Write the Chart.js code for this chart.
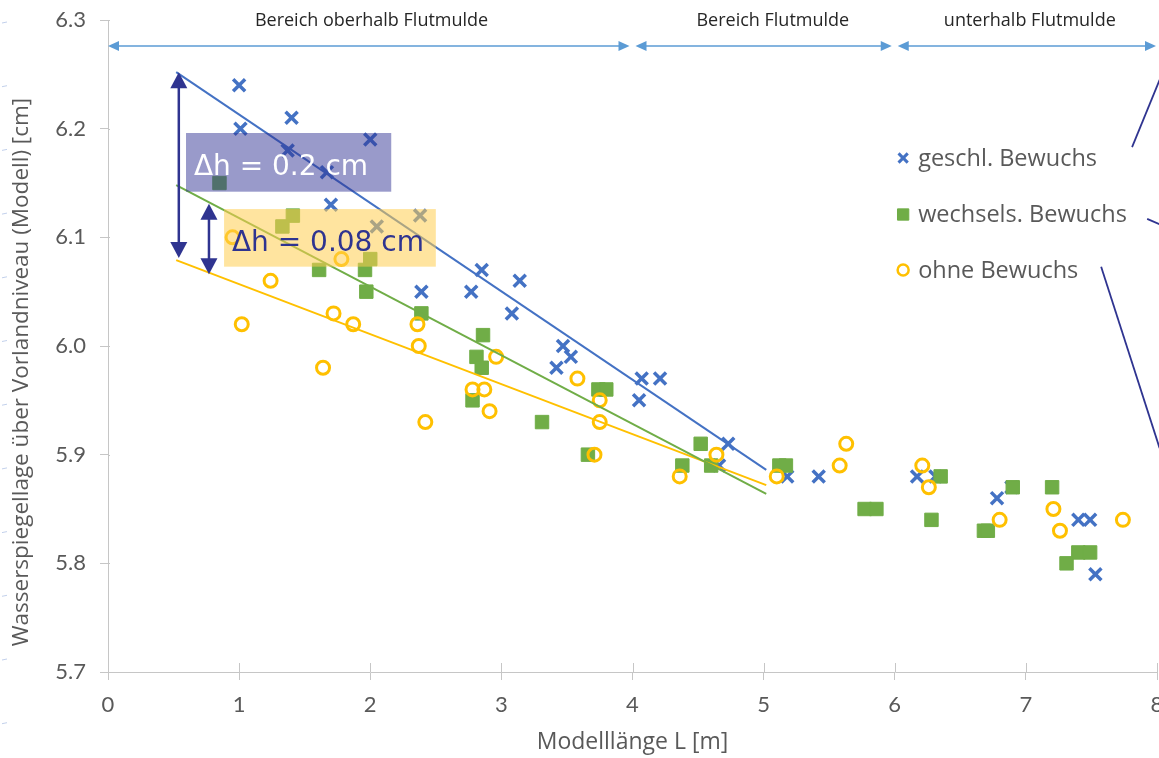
<!DOCTYPE html>
<html>
<head>
<meta charset="utf-8">
<script src="https://cdn.jsdelivr.net/npm/chart.js@4.4.1/dist/chart.umd.min.js"></script>
<style>
  html, body { margin: 0; padding: 0; background: #fff; }
  #chart { display: block; }
</style>
</head>
<body>
<canvas id="chart" width="1159" height="758"></canvas>
<script>
// --- data ---
const xTicks = [0, 1, 2, 3, 4, 5, 6, 7, 8];
const yTicks = [5.7, 5.8, 5.9, 6.0, 6.1, 6.2, 6.3];

const seriesNames = ['geschl. Bewuchs', 'wechsels. Bewuchs', 'ohne Bewuchs'];

const geschlX = [1.00, 1.01, 1.40, 1.37, 1.67, 1.70, 2.00, 2.05, 2.38, 2.39, 2.85, 2.77, 3.08, 3.14, 3.47, 3.53, 3.42, 4.07, 4.21, 4.05, 4.73, 4.66, 5.18, 5.42, 6.17, 6.31, 6.78, 6.89, 7.40, 7.49, 7.53];
const geschlY = [6.24, 6.20, 6.21, 6.18, 6.16, 6.13, 6.19, 6.11, 6.12, 6.05, 6.07, 6.05, 6.03, 6.06, 6.00, 5.99, 5.98, 5.97, 5.97, 5.95, 5.91, 5.89, 5.88, 5.88, 5.88, 5.88, 5.86, 5.87, 5.84, 5.84, 5.79];

const wechselX = [0.85, 1.41, 1.33, 2.00, 1.61, 1.96, 1.97, 2.39, 2.86, 2.81, 2.85, 2.78, 3.31, 3.74, 3.80, 3.66, 4.52, 4.38, 4.60, 5.12, 5.17, 5.77, 5.86, 6.35, 6.28, 6.68, 6.71, 6.90, 7.20, 7.40, 7.49, 7.31];
const wechselY = [6.15, 6.12, 6.11, 6.08, 6.07, 6.07, 6.05, 6.03, 6.01, 5.99, 5.98, 5.95, 5.93, 5.96, 5.96, 5.90, 5.91, 5.89, 5.89, 5.89, 5.89, 5.85, 5.85, 5.88, 5.84, 5.83, 5.83, 5.87, 5.87, 5.81, 5.81, 5.80];

const ohneX = [0.95, 1.78, 1.24, 1.02, 1.72, 1.87, 1.64, 2.36, 2.37, 2.42, 2.78, 2.87, 2.91, 2.96, 3.58, 3.75, 3.75, 3.71, 4.36, 4.64, 5.10, 5.63, 5.58, 6.21, 6.26, 6.80, 7.21, 7.26, 7.74];
const ohneY = [6.10, 6.08, 6.06, 6.02, 6.03, 6.02, 5.98, 6.02, 6.00, 5.93, 5.96, 5.96, 5.94, 5.99, 5.97, 5.95, 5.93, 5.90, 5.88, 5.90, 5.88, 5.91, 5.89, 5.89, 5.87, 5.84, 5.85, 5.83, 5.84];

// trend lines (start / end)
const trendX = [0.52, 5.02];
const trendGeschlY = [6.252, 5.886];
const trendWechselY = [6.148, 5.864];
const trendOhneY = [6.079, 5.872];

// range labels above the plot
const rangeLabels = ['Bereich oberhalb Flutmulde', 'Bereich Flutmulde', 'unterhalb Flutmulde'];
const rangeBounds = [0, 4, 6, 8];

const BLUE = '#4472c4';
const GREEN = '#70ad47';
const YELLOW = '#ffc000';
const NAVY = '#2f3490';
const GREY_TEXT = '#595959';
const AXIS = '#c6c6c6';
const FONT = 'Lato, "Open Sans", sans-serif';
const TEXT_FONT = '"Open Sans", Lato, sans-serif';

const zip = (xs, ys) => xs.map((x, i) => ({ x: x, y: ys[i] }));

function arrowHead(ctx, x, y, angle, len, width) {
    ctx.save();
    ctx.translate(x, y);
    ctx.rotate(angle);
    ctx.beginPath();
    ctx.moveTo(0, 0);
    ctx.lineTo(-len, -width / 2);
    ctx.lineTo(-len, width / 2);
    ctx.closePath();
    ctx.fill();
    ctx.restore();
}

// vertical double arrow between two pixel y positions
function doubleArrow(ctx, px, py1, py2) {
    ctx.strokeStyle = NAVY;
    ctx.fillStyle = NAVY;
    ctx.lineWidth = 2.5;
    ctx.beginPath();
    ctx.moveTo(px, py1 + 10);
    ctx.lineTo(px, py2 - 10);
    ctx.stroke();
    arrowHead(ctx, px, py1, -Math.PI / 2, 16, 17);
    arrowHead(ctx, px, py2, Math.PI / 2, 16, 17);
}

const decor = {
    id: 'decor',
    afterDraw(chart) {
        const ctx = chart.ctx;
        const xs = chart.scales.x;
        const ys = chart.scales.y;
        const X = v => xs.getPixelForValue(v);
        const Y = v => ys.getPixelForValue(v);
        const area = chart.chartArea;

        ctx.save();

        // inner parts of the crossing tick marks
        ctx.strokeStyle = AXIS;
        ctx.lineWidth = 1;
        ctx.beginPath();
        xTicks.forEach(t => {
            const px = Math.round(X(t)) + 0.5;
            ctx.moveTo(px, area.bottom);
            ctx.lineTo(px, area.bottom - 9);
        });
        yTicks.forEach(t => {
            const py = Math.round(Y(t)) + 0.5;
            ctx.moveTo(area.left, py);
            ctx.lineTo(area.left + 2, py);
        });
        ctx.stroke();

        // y axis title
        ctx.save();
        ctx.translate(22, 372);
        ctx.rotate(-Math.PI / 2);
        ctx.fillStyle = GREY_TEXT;
        ctx.font = '22.5px ' + TEXT_FONT;
        ctx.textAlign = 'center';
        ctx.textBaseline = 'middle';
        ctx.fillText('Wasserspiegellage über Vorlandniveau (Modell) [cm]', 0, 0);
        ctx.restore();

        // range arrows along the top
        ctx.strokeStyle = '#5b9bd5';
        ctx.fillStyle = '#5b9bd5';
        ctx.lineWidth = 1.5;
        const yArrow = Y(6.276);
        for (let i = 0; i < rangeLabels.length; i++) {
            const a = X(rangeBounds[i]) + (i === 0 ? 0 : 3);
            const b = X(rangeBounds[i + 1]) - (i === rangeLabels.length - 1 ? 1 : 3);
            ctx.beginPath();
            ctx.moveTo(a + 6, yArrow);
            ctx.lineTo(b - 6, yArrow);
            ctx.stroke();
            arrowHead(ctx, a, yArrow, Math.PI, 11, 10);
            arrowHead(ctx, b, yArrow, 0, 11, 10);
        }
        ctx.fillStyle = '#262626';
        ctx.font = '18px ' + TEXT_FONT;
        ctx.textAlign = 'center';
        ctx.textBaseline = 'middle';
        const labelCenters = [2.01, 5.07, 7.03];
        rangeLabels.forEach((t, i) => ctx.fillText(t, X(labelCenters[i]), 21));

        // legend
        const legendRows = [6.173, 6.121, 6.070];
        const styles = [
            { pointStyle: 'crossRot', radius: 6.5, borderWidth: 3, color: BLUE, fill: BLUE },
            { pointStyle: 'rect', radius: 8, borderWidth: 1, color: GREEN, fill: GREEN },
            { pointStyle: 'circle', radius: 5.5, borderWidth: 2.5, color: YELLOW, fill: 'rgba(0,0,0,0)' }
        ];
        ctx.font = '23.5px ' + TEXT_FONT;
        ctx.textAlign = 'left';
        ctx.textBaseline = 'middle';
        seriesNames.forEach((name, i) => {
            const py = Y(legendRows[i]);
            const px = X(6.064);
            const s = styles[i];
            ctx.save();
            ctx.strokeStyle = s.color;
            ctx.fillStyle = s.fill;
            ctx.lineWidth = s.borderWidth;
            Chart.helpers.drawPoint(ctx, { pointStyle: s.pointStyle, radius: s.radius, borderWidth: s.borderWidth, rotation: 0 }, px, py);
            ctx.restore();
            ctx.fillStyle = GREY_TEXT;
            ctx.fillText(name, px + 15, py + 1);
        });

        // leader lines on the right
        ctx.strokeStyle = NAVY;
        ctx.lineWidth = 1.8;
        const leaders = [
            [7.81, 6.183, 8.02, 6.245],
            [7.925, 6.117, 8.02, 6.112],
            [7.574, 6.073, 8.02, 5.906]
        ];
        leaders.forEach(l => {
            ctx.beginPath();
            ctx.moveTo(X(l[0]), Y(l[1]));
            ctx.lineTo(X(l[2]), Y(l[3]));
            ctx.stroke();
        });

        // delta-h annotation boxes
        ctx.fillStyle = 'rgba(46,49,146,0.49)';
        ctx.fillRect(X(0.595), Y(6.196), X(2.16) - X(0.595), Y(6.142) - Y(6.196));
        ctx.fillStyle = 'rgba(255,205,80,0.55)';
        ctx.fillRect(X(0.885), Y(6.126), X(2.50) - X(0.885), Y(6.073) - Y(6.126));

        ctx.font = '28px "DejaVu Sans", Verdana, sans-serif';
        ctx.textAlign = 'left';
        ctx.textBaseline = 'alphabetic';
        ctx.fillStyle = '#ffffff';
        ctx.fillText('Δh = 0.2 cm', X(0.655), Y(6.157));
        ctx.fillStyle = NAVY;
        ctx.fillText('Δh = 0.08 cm', X(0.945), Y(6.0875));

        doubleArrow(ctx, X(0.54), Y(6.252), Y(6.081));
        doubleArrow(ctx, X(0.77), Y(6.131), Y(6.066));

        // faint marks on the left edge
        ctx.strokeStyle = 'rgba(120,150,210,0.45)';
        ctx.lineWidth = 1;
        for (let py = 22; py < 758; py += 63.7) {
            ctx.beginPath();
            ctx.moveTo(2, py + 1);
            ctx.lineTo(7, py);
            ctx.stroke();
        }

        ctx.restore();
    }
};

const canvas = document.getElementById('chart');
new Chart(canvas.getContext('2d'), {
    type: 'scatter',
    data: {
        datasets: [
            {
                label: 'trend ' + seriesNames[0], type: 'line', data: zip(trendX, trendGeschlY),
                borderColor: BLUE, borderWidth: 2, pointRadius: 0, fill: false, order: 0
            },
            {
                label: 'trend ' + seriesNames[1], type: 'line', data: zip(trendX, trendWechselY),
                borderColor: GREEN, borderWidth: 2, pointRadius: 0, fill: false, order: 0
            },
            {
                label: 'trend ' + seriesNames[2], type: 'line', data: zip(trendX, trendOhneY),
                borderColor: YELLOW, borderWidth: 2, pointRadius: 0, fill: false, order: 0
            },
            {
                label: seriesNames[2], data: zip(ohneX, ohneY),
                pointStyle: 'circle', pointRadius: 6.5, borderWidth: 3,
                borderColor: YELLOW, backgroundColor: 'rgba(0,0,0,0)', order: 1
            },
            {
                label: seriesNames[1], data: zip(wechselX, wechselY),
                pointStyle: 'rect', pointRadius: 9.5, borderWidth: 1,
                borderColor: GREEN, backgroundColor: GREEN, order: 2
            },
            {
                label: seriesNames[0], data: zip(geschlX, geschlY),
                pointStyle: 'crossRot', pointRadius: 8.5, borderWidth: 3.5,
                borderColor: BLUE, backgroundColor: BLUE, order: 3
            }
        ]
    },
    options: {
        responsive: false,
        animation: false,
        events: [],
        layout: { autoPadding: false, padding: { top: 20, right: 2, left: 0, bottom: 0 } },
        plugins: {
            legend: { display: false },
            tooltip: { enabled: false }
        },
        scales: {
            x: {
                type: 'linear',
                min: 0,
                max: 8,
                afterBuildTicks: s => { s.ticks = xTicks.map(v => ({ value: v })); },
                afterFit: s => { s.height = 86; s.paddingLeft = 0; s.paddingRight = 0; },
                grid: { drawOnChartArea: false, drawTicks: true, tickLength: 8, color: AXIS },
                border: { color: AXIS, width: 1 },
                ticks: {
                    padding: 12,
                    color: GREY_TEXT,
                    font: { family: FONT, size: 22 },
                    maxRotation: 0,
                    callback: v => String(v)
                },
                title: {
                    display: true,
                    text: 'Modelllänge L [m]',
                    color: GREY_TEXT,
                    font: { family: TEXT_FONT, size: 23 },
                    padding: { top: 0, bottom: 2 }
                }
            },
            y: {
                type: 'linear',
                min: 5.7,
                max: 6.3,
                afterBuildTicks: s => { s.ticks = yTicks.map(v => ({ value: v })); },
                afterFit: s => { s.width = 108; s.paddingTop = 0; s.paddingBottom = 0; },
                grid: { drawOnChartArea: false, drawTicks: true, tickLength: 8, color: AXIS },
                border: { color: AXIS, width: 1 },
                ticks: {
                    padding: 14,
                    color: GREY_TEXT,
                    font: { family: FONT, size: 22 },
                    callback: v => Number(v).toFixed(1)
                },
                title: { display: false }
            }
        }
    },
    plugins: [decor]
});
</script>
</body>
</html>
